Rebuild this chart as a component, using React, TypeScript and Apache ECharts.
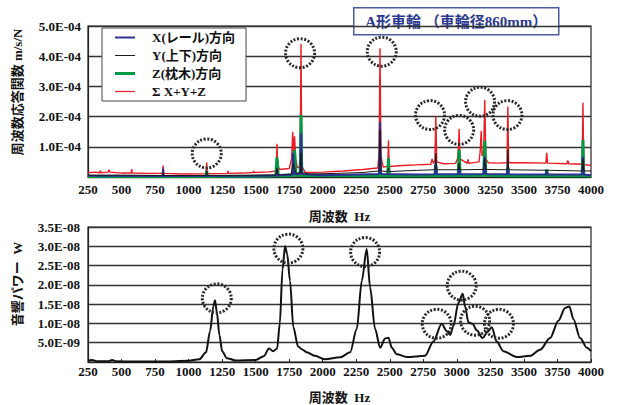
import React, { useEffect, useRef } from "react";
import * as echarts from "echarts";

// ---- Top chart: frequency response function (units of 1e-4 m/s/N) ----
const xRail: [number, number][] = [
  [250, 0.04], [806, 0.03], [810, 0.28], [814, 0.03], [1500, 0.04], [1655, 0.05], [1659, 0.2], [1663, 0.05],
  [1772, 0.08], [1779, 0.8], [1786, 0.1], [1832, 0.1], [1838, 1.45], [1844, 0.1], [2000, 0.06], [2420, 0.1],
  [2427, 1.83], [2434, 0.1], [2700, 0.08], [2836, 0.09], [2843, 0.5], [2850, 0.09], [3010, 0.09], [3017, 0.3],
  [3024, 0.09], [3200, 0.1], [3208, 0.67], [3216, 0.1], [3374, 0.09], [3380, 0.5], [3386, 0.09], [3664, 0.08],
  [3670, 0.2], [3676, 0.08], [3934, 0.08], [3940, 0.67], [3946, 0.08], [4000, 0.06],
];
const yVert: [number, number][] = [
  [250, 0.06], [500, 0.06], [806, 0.05], [810, 0.15], [814, 0.05], [1130, 0.05], [1135, 0.2], [1140, 0.05],
  [1500, 0.06], [1650, 0.07], [1659, 0.3], [1668, 0.08], [1765, 0.1], [1779, 0.45], [1790, 0.3], [1800, 0.12],
  [1832, 0.15], [1838, 0.8], [1844, 0.15], [1900, 0.1], [2100, 0.12], [2300, 0.15], [2420, 0.2], [2427, 1.55],
  [2434, 0.2], [2484, 0.18], [2490, 0.3], [2496, 0.18], [2700, 0.22], [2836, 0.24], [2843, 0.78], [2850, 0.24],
  [3010, 0.24], [3017, 0.45], [3024, 0.24], [3200, 0.25], [3208, 0.6], [3216, 0.25], [3374, 0.24], [3380, 0.9],
  [3386, 0.24], [3700, 0.22], [3934, 0.2], [3940, 0.6], [3946, 0.2], [4000, 0.2],
];
const zSleeper: [number, number][] = [
  [250, 0.02], [1130, 0.02], [1135, 0.2], [1140, 0.02], [1650, 0.03], [1659, 0.65], [1668, 0.03], [1780, 0.05],
  [1790, 0.9], [1800, 0.05], [1832, 0.05], [1838, 2.05], [1844, 0.05], [2420, 0.04], [2427, 0.3], [2434, 0.04],
  [2484, 0.04], [2490, 0.62], [2496, 0.04], [2836, 0.04], [2843, 0.4], [2850, 0.04], [3010, 0.05], [3017, 0.9],
  [3024, 0.05], [3200, 0.06], [3208, 1.2], [3216, 0.06], [3374, 0.04], [3380, 0.3], [3386, 0.04], [3664, 0.04],
  [3670, 0.25], [3676, 0.04], [3934, 0.04], [3940, 1.22], [3946, 0.04], [4000, 0.03],
];
const sumXYZ: [number, number][] = [
  [250, 0.14], [300, 0.16], [338, 0.14], [342, 0.22], [346, 0.14], [400, 0.16], [407, 0.24], [414, 0.16],
  [500, 0.13], [572, 0.13], [576, 0.26], [580, 0.13], [700, 0.12], [806, 0.12], [810, 0.38], [814, 0.12],
  [950, 0.1], [1130, 0.11], [1135, 0.48], [1140, 0.11], [1290, 0.12], [1294, 0.2], [1298, 0.12], [1400, 0.13],
  [1480, 0.15], [1484, 0.2], [1488, 0.15], [1600, 0.17], [1650, 0.2], [1655, 0.5], [1659, 1.1], [1663, 0.5],
  [1675, 0.25], [1750, 0.28], [1768, 0.6], [1776, 1.5], [1782, 0.8], [1790, 1.35], [1798, 0.6], [1812, 0.3],
  [1832, 0.35], [1838, 4.4], [1844, 0.35], [1870, 0.15], [2000, 0.16], [2150, 0.2], [2300, 0.25], [2410, 0.3],
  [2420, 0.7], [2427, 4.26], [2434, 0.7], [2450, 0.33], [2485, 0.35], [2490, 1.22], [2495, 0.35], [2600, 0.38],
  [2700, 0.4], [2805, 0.42], [2815, 0.6], [2825, 0.45], [2836, 0.55], [2843, 2.0], [2850, 0.5], [2900, 0.44],
  [2990, 0.45], [3005, 0.6], [3012, 1.0], [3017, 1.6], [3023, 0.6], [3078, 0.45], [3084, 0.58], [3090, 0.45],
  [3165, 0.5], [3175, 0.9], [3181, 1.53], [3188, 0.7], [3200, 0.9], [3208, 2.55], [3216, 0.6], [3235, 0.47],
  [3300, 0.46], [3374, 0.47], [3380, 2.33], [3386, 0.47], [3500, 0.47], [3664, 0.46], [3670, 0.8], [3676, 0.46],
  [3820, 0.44], [3827, 0.55], [3834, 0.44], [3930, 0.42], [3935, 0.7], [3940, 2.46], [3946, 0.42], [4000, 0.38],
];
const topCircles: [number, number][] = [
  [1135, 0.78], [1831, 4.1], [2440, 4.15], [2800, 2.05], [3017, 1.56], [3173, 2.49], [3377, 2.05],
];

// ---- Bottom chart: acoustic power (units of 1e-8 W) ----
const soundPower: [number, number][] = [
  [250, 0.04], [280, 0.05], [320, 0.02], [400, 0.02], [430, 0.05], [460, 0.02], [600, 0.01], [800, 0.01],
  [1000, 0.03], [1080, 0.07], [1130, 0.25], [1160, 0.8], [1185, 1.45], [1197, 1.6], [1210, 1.3], [1230, 0.7],
  [1250, 0.28], [1285, 0.1], [1350, 0.04], [1500, 0.05], [1560, 0.15], [1600, 0.35], [1630, 0.28], [1660, 0.35],
  [1680, 1.0], [1700, 2.4], [1719, 3.0], [1735, 2.8], [1756, 2.1], [1781, 0.9], [1816, 0.4], [1850, 0.32],
  [1881, 0.25], [1943, 0.16], [2017, 0.07], [2130, 0.12], [2204, 0.25], [2254, 0.86], [2291, 2.1], [2328, 2.93],
  [2353, 1.94], [2390, 0.86], [2428, 0.37], [2465, 0.61], [2490, 0.63], [2515, 0.37], [2552, 0.2], [2627, 0.13],
  [2763, 0.16], [2825, 0.53], [2887, 0.99], [2925, 0.8], [2950, 0.7], [2974, 0.93], [3011, 1.53], [3044, 1.77],
  [3061, 1.44], [3086, 1.03], [3118, 0.99], [3148, 0.82], [3192, 0.62], [3227, 0.77], [3260, 0.9], [3297, 0.53],
  [3347, 0.28], [3447, 0.13], [3546, 0.16], [3621, 0.32], [3695, 0.62], [3757, 1.07], [3807, 1.4], [3839, 1.44],
  [3869, 1.11], [3919, 0.62], [3969, 0.37], [4000, 0.28],
];
const bottomCircles: [number, number][] = [
  [1210, 1.65], [1744, 2.94], [2316, 2.85], [2850, 0.99], [3036, 1.98], [3136, 1.07], [3314, 0.99],
];

const legendNames = ["X(レール)方向", "Y(上下)方向", "Z(枕木)方向", "Σ X+Y+Z"];
const legendColors = ["#2e3192", "#1a1a1a", "#009a44", "#ec1c24"];
const legendThickness = [2, 1, 3, 1.2];
const FONT = "'Liberation Serif', 'Noto Sans CJK JP', serif";

const circleMark = (pts: [number, number][]) => ({
  symbol: "circle",
  symbolSize: 29,
  silent: true,
  label: { show: false },
  itemStyle: { color: "rgba(0,0,0,0)", borderColor: "#2a2a2a", borderWidth: 3, borderType: [2, 1.6] },
  data: pts.map((c) => ({ coord: c })),
});

const axisLabelStyle = { color: "#111", fontSize: 13, fontWeight: "bold" as const, fontFamily: FONT };

export default function App() {
  const ref = useRef<HTMLDivElement>(null);
  useEffect(() => {
    document.body.style.margin = "0";
    const chart = echarts.init(ref.current!, null, { renderer: "svg" });
    const option: any = {
      animation: false,
      backgroundColor: "#fff",
      textStyle: { fontFamily: FONT },
      grid: [
        { left: 88, right: 27, top: 26, height: 151, show: true, borderColor: "#222", borderWidth: 1.2 },
        { left: 88, right: 27, top: 227, height: 141, show: true, borderColor: "#222", borderWidth: 1.2 },
      ],
      xAxis: [
        {
          type: "value", gridIndex: 0, min: 250, max: 4000, interval: 250,
          axisLine: { lineStyle: { color: "#222", width: 1.2 } }, axisTick: { show: false },
          splitLine: { show: false }, axisLabel: { ...axisLabelStyle, margin: 6, formatter: (v: number) => String(v) },
          name: "周波数  Hz", nameLocation: "middle", nameGap: 33,
          nameTextStyle: { ...axisLabelStyle },
        },
        {
          type: "value", gridIndex: 1, min: 250, max: 4000, interval: 250,
          axisLine: { lineStyle: { color: "#222", width: 1.2 } },
          axisTick: { show: true, inside: true, length: 3, lineStyle: { color: "#222" } },
          splitLine: { show: false }, axisLabel: { ...axisLabelStyle, margin: 3, formatter: (v: number) => String(v) },
          name: "周波数  Hz", nameLocation: "middle", nameGap: 29,
          nameTextStyle: { ...axisLabelStyle },
        },
      ],
      yAxis: [
        {
          type: "value", gridIndex: 0, min: 0, max: 5, interval: 1,
          axisLine: { show: true, lineStyle: { color: "#222", width: 1.2 } }, axisTick: { show: false },
          splitLine: { lineStyle: { color: "#333", width: 1.3 } },
          axisLabel: { ...axisLabelStyle, margin: 7, formatter: (v: number) => (v === 0 ? "" : v.toFixed(1) + "E-04") },
        },
        {
          type: "value", gridIndex: 1, min: 0, max: 3.5, interval: 0.5,
          axisLine: { show: true, lineStyle: { color: "#222", width: 1.2 } }, axisTick: { show: false },
          splitLine: { lineStyle: { color: "#333", width: 1.3 } },
          axisLabel: {
            ...axisLabelStyle, margin: 8,
            formatter: (v: number) => (v === 0 ? "" : v < 1 ? (v * 10).toFixed(1) + "E-09" : v.toFixed(1) + "E-08"),
          },
        },
      ],
      legend: {
        data: legendNames.map((n, i) => ({
          name: n,
          icon: `path://M0,0H20V${legendThickness[i]}H0Z`,
          itemStyle: { color: legendColors[i], borderWidth: 0 },
        })),
        orient: "vertical",
        left: 102,
        top: 28,
        itemWidth: 20,
        itemHeight: 14,
        itemGap: 5,
        padding: [3, 11, 3, 13],
        backgroundColor: "#fff",
        borderColor: "#444",
        borderWidth: 1,
        selectedMode: false,
        textStyle: { color: "#111", fontSize: 13, fontWeight: "bold", fontFamily: FONT, padding: [0, 0, 0, 12] },
      },
      series: [
        {
          name: legendNames[3], type: "line", xAxisIndex: 0, yAxisIndex: 0, symbol: "none",
          lineStyle: { color: legendColors[3], width: 1.4 }, itemStyle: { color: legendColors[3] }, data: sumXYZ,
        },
        {
          name: legendNames[2], type: "line", xAxisIndex: 0, yAxisIndex: 0, symbol: "none",
          lineStyle: { color: legendColors[2], width: 3 }, itemStyle: { color: legendColors[2] }, data: zSleeper,
        },
        {
          name: legendNames[0], type: "line", xAxisIndex: 0, yAxisIndex: 0, symbol: "none",
          lineStyle: { color: legendColors[0], width: 2 }, itemStyle: { color: legendColors[0] }, data: xRail,
        },
        {
          name: legendNames[1], type: "line", xAxisIndex: 0, yAxisIndex: 0, symbol: "none",
          lineStyle: { color: legendColors[1], width: 1 }, itemStyle: { color: legendColors[1] }, data: yVert,
          markPoint: circleMark(topCircles),
        },
        {
          name: "音響パワー", type: "line", xAxisIndex: 1, yAxisIndex: 1, symbol: "none",
          smooth: 0.3, smoothMonotone: "x",
          lineStyle: { color: "#111", width: 2 }, itemStyle: { color: "#111" }, data: soundPower,
          markPoint: circleMark(bottomCircles),
        },
      ],
      graphic: [
        {
          type: "group", left: 353, top: 7, z: 100,
          children: [
            { type: "rect", shape: { x: 0, y: 0, width: 205, height: 27 }, style: { fill: "#fff", stroke: "#4d5aa0", lineWidth: 1.5 } },
            {
              type: "text", x: 102.5, y: 14,
              style: {
                text: "A形車輪 （車輪径860mm）", fill: "#2b3990", fontSize: 15, fontWeight: "bold",
                fontFamily: FONT, textAlign: "center", textVerticalAlign: "middle",
              },
            },
          ],
        },
        {
          type: "text", x: 17, y: 92, rotation: Math.PI / 2, z: 100,
          style: {
            text: "周波数応答関数 m/s/N", fill: "#111", fontSize: 13, fontWeight: "bold",
            fontFamily: FONT, textAlign: "center", textVerticalAlign: "middle",
          },
        },
        {
          type: "text", x: 17, y: 284, rotation: Math.PI / 2, z: 100,
          style: {
            text: "音響パワー  W", fill: "#111", fontSize: 13, fontWeight: "bold",
            fontFamily: FONT, textAlign: "center", textVerticalAlign: "middle",
          },
        },
      ],
    };
    chart.setOption(option);
    return () => chart.dispose();
  }, []);
  return <div ref={ref} style={{ width: 618, height: 405 }} />;
}
